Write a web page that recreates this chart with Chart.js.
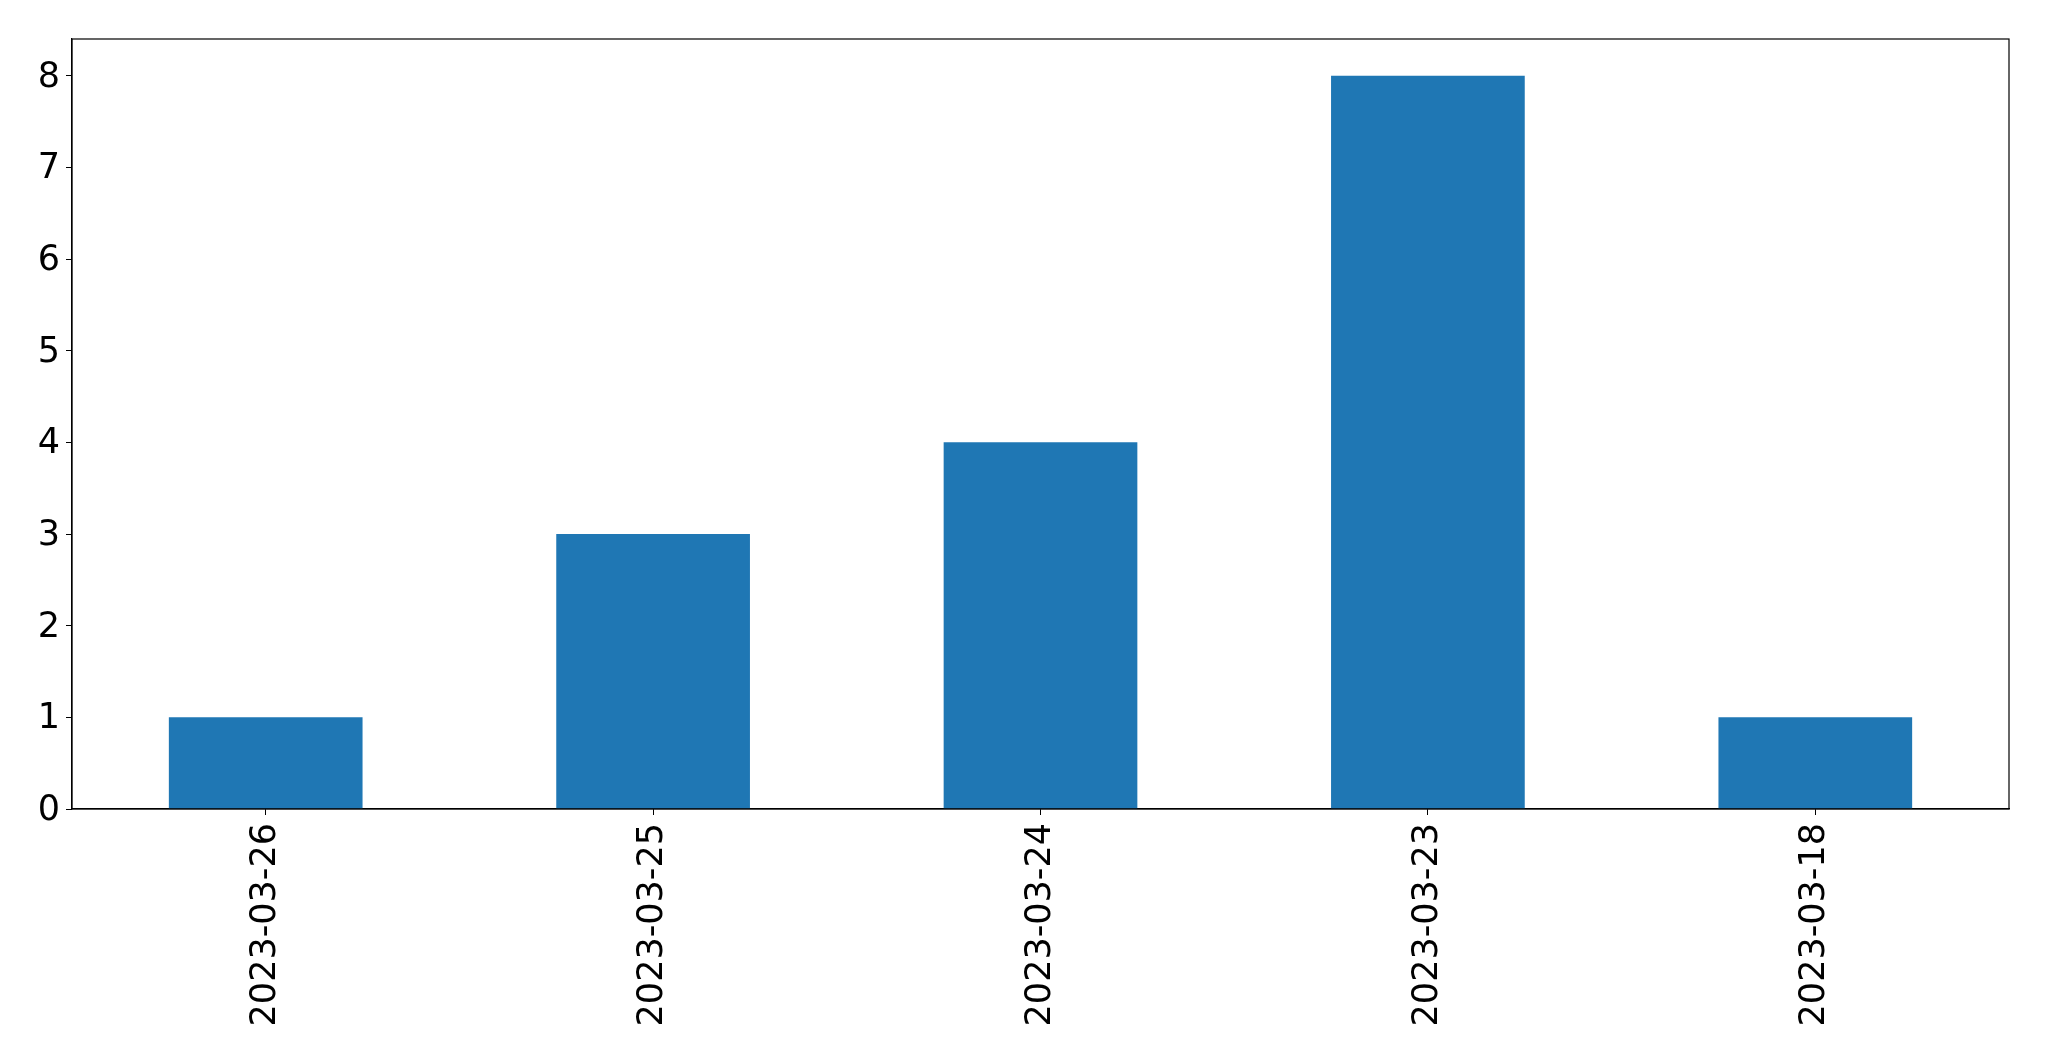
<!DOCTYPE html>
<html>
<head>
<meta charset="utf-8">
<script src="https://cdn.jsdelivr.net/npm/chart.js@4"></script>
<style>
  body { margin: 0; background: #fff; }
  canvas { display: block; }
</style>
</head>
<body>
<canvas id="chart" width="2049" height="1061"></canvas>
<script>
const dates = ['2023-03-26', '2023-03-25', '2023-03-24', '2023-03-23', '2023-03-18'];
const counts = [1, 3, 4, 8, 1];
const yTicks = [0, 1, 2, 3, 4, 5, 6, 7, 8];

const chartCanvas = document.getElementById('chart');

// matplotlib style box around the axes
const frameBox = {
    id: 'frameBox',
    afterDraw(chart) {
        const a = chart.chartArea;
        const ctx = chart.ctx;
        ctx.save();
        ctx.strokeStyle = '#000000';
        ctx.lineWidth = 1.2;
        ctx.strokeRect(a.left, a.top, a.right - a.left, a.bottom - a.top);
        ctx.restore();
    }
};

Chart.defaults.font.family = "'DejaVu Sans', sans-serif";
Chart.defaults.font.size = 35;
Chart.defaults.color = '#000000';

new Chart(chartCanvas, {
    type: 'bar',
    data: {
        labels: dates,
        datasets: [{
            data: counts,
            backgroundColor: '#1f77b4',
            borderWidth: 0,
            categoryPercentage: 1,
            barPercentage: 0.5
        }]
    },
    options: {
        responsive: false,
        animation: false,
        layout: {padding: {top: 39, right: 40, left: 0, bottom: 0}},
        plugins: {
            legend: {display: false},
            tooltip: {enabled: false}
        },
        scales: {
            x: {
                offset: true,
                grid: {drawOnChartArea: false, drawTicks: true, tickLength: 6, color: '#000000', offset: false},
                border: {display: true, color: '#000000', width: 1.2},
                ticks: {maxRotation: 90, minRotation: 90, padding: 8},
                afterFit: (scale) => { scale.height = 252; }
            },
            y: {
                min: 0,
                max: 8.4,
                grid: {drawOnChartArea: false, drawTicks: true, tickLength: 6, color: '#000000'},
                border: {display: true, color: '#000000', width: 1.2},
                ticks: {stepSize: 1, includeBounds: false, padding: 6, labelOffset: 2},
                afterBuildTicks: (scale) => { scale.ticks = yTicks.map(v => ({value: v})); },
                afterFit: (scale) => { scale.width = 72; }
            }
        }
    },
    plugins: [frameBox]
});
</script>
</body>
</html>
